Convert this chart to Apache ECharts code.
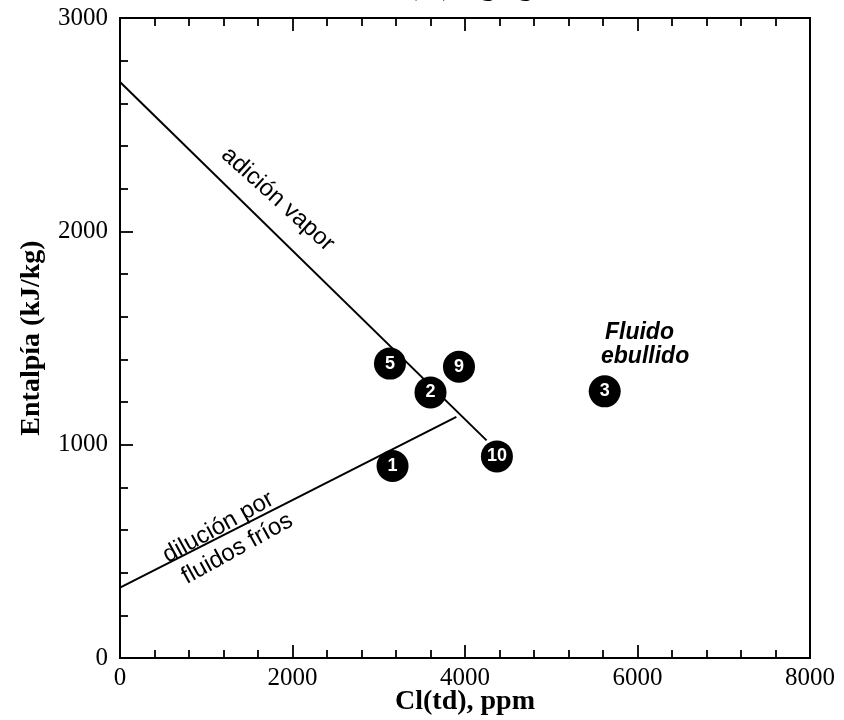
<!DOCTYPE html>
<html lang="es">
<head>
<meta charset="UTF-8">
<title>Entalpía vs Cl</title>
<style>
  html, body { margin: 0; padding: 0; background: #fff; }
  #chart { width: 844px; height: 720px; }
</style>
</head>
<body>
<div id="chart"></div>
<script src="https://cdn.jsdelivr.net/npm/echarts@6/dist/echarts.min.js"></script>
<script>
// pozos (Cl ppm, entalpía kJ/kg)
var wellNames = ['5', '9', '2', '10', '1', '3'];
var wellCl = [3130, 3930, 3600, 4370, 3160, 5620];
var wellH = [1380, 1365, 1245, 945, 900, 1250];

// líneas de mezcla
var vaporLine = [[0, 2700], [4250, 1020]];
var dilutionLine = [[0, 330], [3900, 1130]];

// textos sobre el gráfico
var notes = [
  { text: 'adición vapor', x: 1830, y: 2150, rotate: -42, italic: false, align: 'center' },
  { text: 'dilución por', x: 1140, y: 612, rotate: 29, italic: false, align: 'center' },
  { text: 'fluidos fríos', x: 1360, y: 512, rotate: 29, italic: false, align: 'center' },
  { text: 'Fluido', x: 5623, y: 1524, rotate: 0, italic: true, align: 'left' },
  { text: 'ebullido', x: 5577, y: 1411, rotate: 0, italic: true, align: 'left' }
];

var xTicks = ['0', '2000', '4000', '6000', '8000'];
var yTicks = ['0', '1000', '2000', '3000'];

var chart = echarts.init(document.getElementById('chart'));

var wellData = [];
for (var i = 0; i < wellNames.length; i++) {
  wellData.push({ name: wellNames[i], value: [wellCl[i], wellH[i]] });
}

var noteData = notes.map(function (n) {
  return {
    value: [n.x, n.y],
    label: {
      formatter: n.text,
      rotate: n.rotate,
      fontStyle: n.italic ? 'italic' : 'normal',
      fontWeight: n.italic ? 'bold' : 'normal',
      fontSize: n.italic ? 23 : 24,
      align: n.align
    }
  };
});

var serif = '"Liberation Serif", "DejaVu Serif", serif';
var sans = '"Liberation Sans", Arial, sans-serif';
var tick = { inside: true, length: 13, lineStyle: { color: '#000', width: 1.8 } };
var minor = { show: true, splitNumber: 5, length: 8, lineStyle: { color: '#000', width: 1.8 } };
var axisLine = { show: true, lineStyle: { color: '#000', width: 2 } };

var option = {
  backgroundColor: '#fff',
  animation: false,
  grid: {
    left: 120, right: 34, top: 18, bottom: 62,
    outerBoundsMode: 'none', containLabel: false,
    show: true, borderColor: '#000', borderWidth: 2, backgroundColor: 'transparent'
  },
  graphic: [{
    type: 'text',
    left: 380,
    top: -26,
    style: { text: 'Cl(td), kg/kg', font: 'bold 28px ' + serif, fill: '#000' }
  }],
  xAxis: [{
    type: 'value', min: 0, max: 8000, interval: 2000,
    position: 'bottom',
    name: 'Cl(td), ppm', nameLocation: 'middle', nameGap: 30, nameMoveOverlap: false,
    nameTextStyle: { fontFamily: serif, fontWeight: 'bold', fontSize: 28, color: '#000' },
    axisLine: axisLine,
    axisTick: tick,
    minorTick: minor,
    axisLabel: {
      margin: 8, fontFamily: serif, fontSize: 25, color: '#000',
      formatter: function (v) { return xTicks[v / 2000]; }
    },
    splitLine: { show: false }
  }, {
    type: 'value', min: 0, max: 8000, interval: 2000,
    position: 'top',
    axisLine: axisLine,
    axisTick: tick,
    minorTick: minor,
    axisLabel: { show: false },
    splitLine: { show: false }
  }],
  yAxis: {
    type: 'value', min: 0, max: 3000, interval: 1000,
    name: 'Entalpía (kJ/kg)', nameLocation: 'middle', nameGap: 74,
    nameTextStyle: { fontFamily: serif, fontWeight: 'bold', fontSize: 28, color: '#000' },
    axisLine: axisLine,
    axisTick: tick,
    minorTick: minor,
    axisLabel: {
      margin: 12, fontFamily: serif, fontSize: 25, color: '#000',
      formatter: function (v) { return yTicks[v / 1000]; }
    },
    splitLine: { show: false }
  },
  series: [{
    type: 'line', data: vaporLine, symbol: 'none',
    lineStyle: { color: '#000', width: 2 }, silent: true
  }, {
    type: 'line', data: dilutionLine, symbol: 'none',
    lineStyle: { color: '#000', width: 2 }, silent: true
  }, {
    type: 'scatter', data: wellData, symbol: 'circle', symbolSize: 32,
    itemStyle: { color: '#000', opacity: 1 },
    label: {
      show: true, position: 'inside', formatter: '{b}',
      color: '#fff', fontFamily: sans, fontWeight: 'bold', fontSize: 18
    },
    z: 5
  }, {
    type: 'scatter', data: noteData, symbolSize: 0, silent: true,
    itemStyle: { opacity: 1 },
    label: {
      show: true, position: 'inside', color: '#000',
      fontFamily: sans, fontSize: 24, verticalAlign: 'middle'
    },
    z: 6
  }]
};

chart.setOption(option);
</script>
</body>
</html>
